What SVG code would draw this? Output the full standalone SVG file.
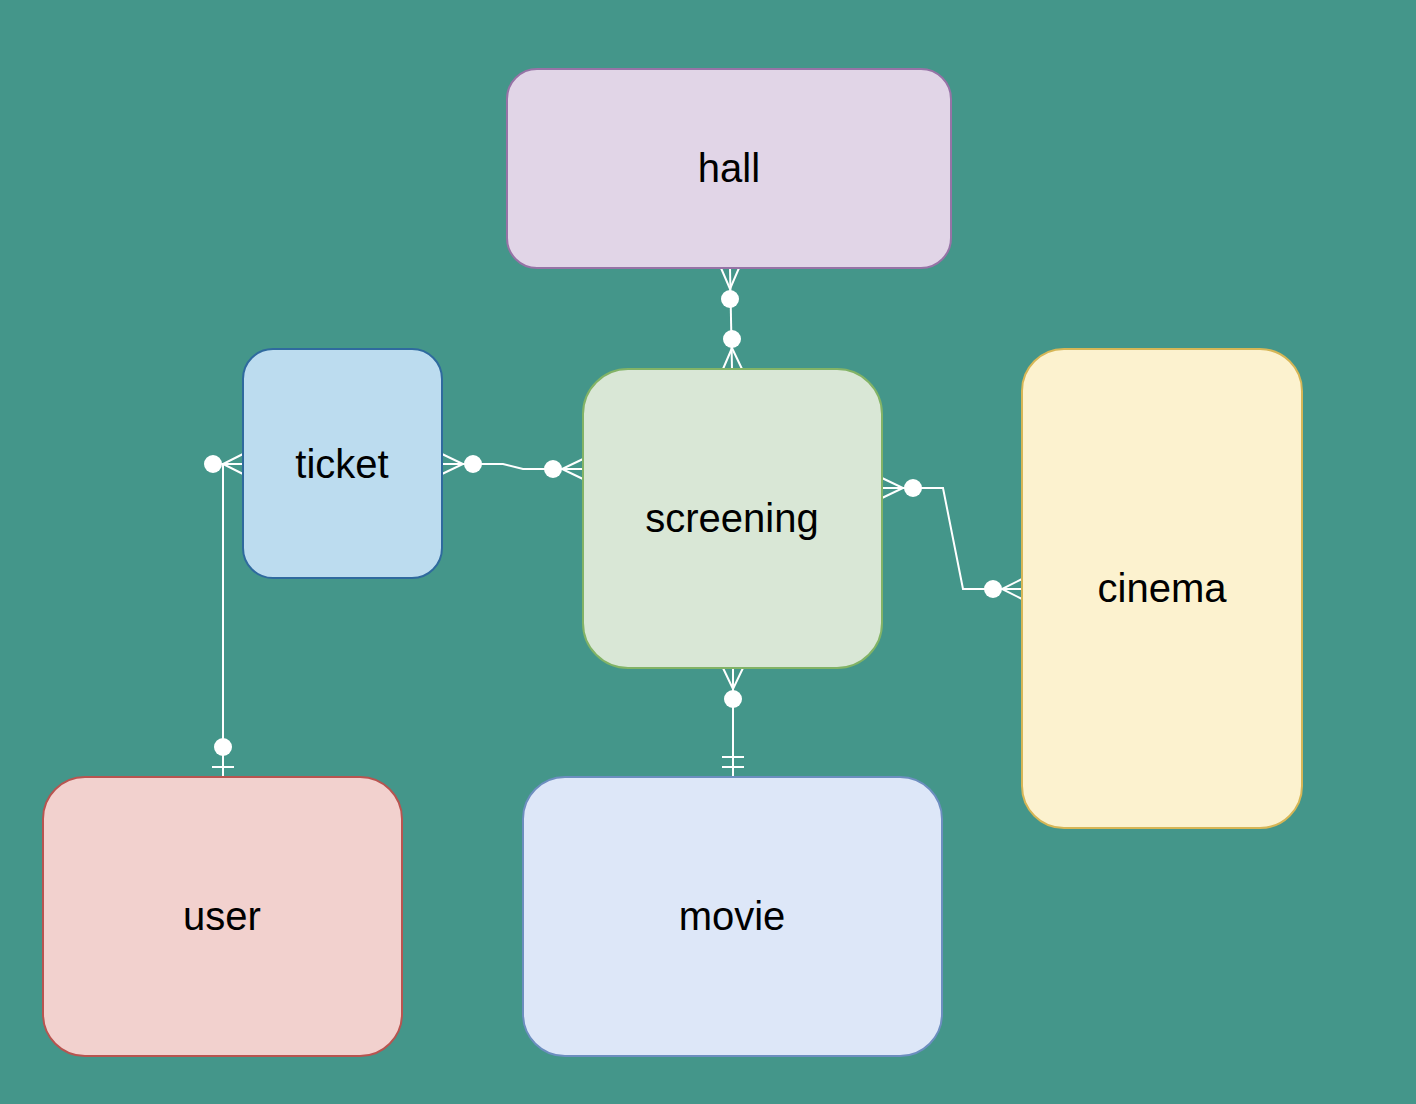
<svg xmlns="http://www.w3.org/2000/svg" width="1416" height="1104" viewBox="0 0 1416 1104">
<style>
.box{stroke-width:2}
.lbl{font-family:"Liberation Sans",Arial,sans-serif;font-size:40px;fill:#000;text-anchor:middle}
.ln{fill:none;stroke:#fff;stroke-width:2}
.dot{fill:#fff;stroke:none}
</style>
<rect x="0" y="0" width="1416" height="1104" fill="#44968a"/>
<g id="connectors">
  <!-- hall - screening -->
  <g id="e-hall-screening">
    <path class="ln" d="M730 268 L732 369"/>
    <path class="ln" d="M721 268 L730 289 L739 268"/>
    <circle class="dot" cx="730" cy="299" r="9"/>
    <path class="ln" d="M723 369 L732 348 L742 369"/>
    <circle class="dot" cx="732" cy="339" r="9"/>
  </g>
  <!-- ticket - screening -->
  <g id="e-ticket-screening">
    <path class="ln" d="M442 464 L503 464 L523 469 L583 469"/>
    <path class="ln" d="M442 454 L463 464 L442 474"/>
    <circle class="dot" cx="473" cy="464" r="9"/>
    <path class="ln" d="M583 459 L562 469 L583 479"/>
    <circle class="dot" cx="553" cy="469" r="9"/>
  </g>
  <!-- screening - cinema -->
  <g id="e-screening-cinema">
    <path class="ln" d="M882 488 L943 488 L963 589 L1022 589"/>
    <path class="ln" d="M882 478 L903 488 L882 498"/>
    <circle class="dot" cx="913" cy="488" r="9"/>
    <path class="ln" d="M1022 579 L1002 589 L1022 599"/>
    <circle class="dot" cx="993" cy="589" r="9"/>
  </g>
  <!-- screening - movie -->
  <g id="e-screening-movie">
    <path class="ln" d="M733 668 L733 777"/>
    <path class="ln" d="M723 668 L733 689 L743 668"/>
    <circle class="dot" cx="733" cy="699" r="9"/>
    <path class="ln" d="M722 757 L744 757 M722 767 L744 767"/>
  </g>
  <!-- user - ticket -->
  <g id="e-user-ticket">
    <path class="ln" d="M223 777 L223 464 L243 464"/>
    <path class="ln" d="M243 454 L223 464 L243 474"/>
    <circle class="dot" cx="213" cy="464" r="9"/>
    <circle class="dot" cx="223" cy="747" r="9"/>
    <path class="ln" d="M212 767 L234 767"/>
  </g>
</g>
<g id="hall">
  <rect class="box" x="507" y="69" width="444" height="199" rx="30" ry="30" fill="#e1d5e7" stroke="#9673a6"/>
  <text class="lbl" x="729" y="182">hall</text>
</g>
<g id="ticket">
  <rect class="box" x="243" y="349" width="199" height="229" rx="30" ry="30" fill="#bcdcef" stroke="#2f6a9e"/>
  <text class="lbl" x="342" y="478">ticket</text>
</g>
<g id="screening">
  <rect class="box" x="583" y="369" width="299" height="299" rx="45" ry="45" fill="#d9e7d6" stroke="#82b366"/>
  <text class="lbl" x="732" y="532">screening</text>
</g>
<g id="cinema">
  <rect class="box" x="1022" y="349" width="280" height="479" rx="42" ry="42" fill="#fcf2cf" stroke="#d6b656"/>
  <text class="lbl" x="1162" y="602">cinema</text>
</g>
<g id="user">
  <rect class="box" x="43" y="777" width="359" height="279" rx="42" ry="42" fill="#f2d1ce" stroke="#b85450"/>
  <text class="lbl" x="222" y="930">user</text>
</g>
<g id="movie">
  <rect class="box" x="523" y="777" width="419" height="279" rx="42" ry="42" fill="#dde7f8" stroke="#6c8ebf"/>
  <text class="lbl" x="732" y="930">movie</text>
</g>
</svg>
